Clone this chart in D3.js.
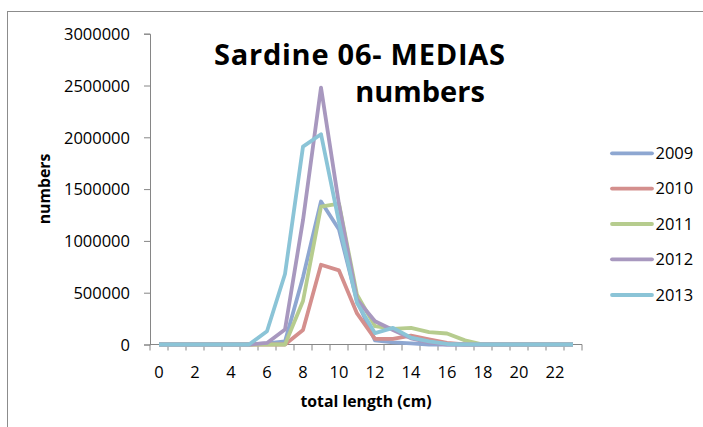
<!DOCTYPE html>
<html><head><meta charset="utf-8">
<script src="https://cdn.jsdelivr.net/npm/d3@7"></script>
<style>body{margin:0;background:#fff}svg{display:block}text{font-family:"Open Sans",sans-serif;fill:#000}</style>
</head><body>
<svg id="c" width="703" height="427"></svg>
<script>
const categories = d3.range(0, 24);
const xTickLabels = [0,2,4,6,8,10,12,14,16,18,20,22];
const yTicks = [0,500000,1000000,1500000,2000000,2500000,3000000];
const years = ["2009","2010","2011","2012","2013"];
const colors = ["#8EA7D1","#D48F8D","#B6CC8E","#A898BF","#8BC4D7"];
const v2009 = [0,0,0,0,0,0,10000,30000,650000,1380000,1110000,420000,40000,20000,10000,0,0,0,0,0,0,0,0,0];
const v2010 = [0,0,0,0,0,0,0,0,140000,770000,715000,300000,55000,55000,85000,50000,15000,0,0,0,0,0,0,0];
const v2011 = [0,0,0,0,0,0,0,0,420000,1330000,1360000,480000,177000,150000,160000,119000,106000,40000,0,0,0,0,0,0];
const v2012 = [0,0,0,0,0,0,15000,145000,1200000,2480000,1350000,434000,225000,140000,60000,20000,0,0,0,0,0,0,0,0];
const v2013 = [0,0,0,0,0,0,128000,680000,1910000,2030000,1180000,400000,110000,160000,67000,30000,5000,0,0,0,0,0,0,0];
const seriesValues = [v2009,v2010,v2011,v2012,v2013];

const svg = d3.select("#c");
svg.append("rect").attr("x",7.5).attr("y",11.5).attr("width",720).attr("height",440)
  .attr("fill","none").attr("stroke","#8c8c8c").attr("stroke-width",1);

const x = d3.scaleBand().domain(categories).range([150,582]);
const y = d3.scaleLinear().domain([0,3000000]).range([344.5,33.7]);
const axisCol = "#868686";

// y axis
const ya = svg.append("g").attr("transform","translate(150,0)")
  .call(d3.axisLeft(y).tickValues(yTicks).tickSize(6).tickPadding(14).tickFormat(d3.format("d")));
ya.select(".domain").attr("stroke",axisCol);
ya.selectAll(".tick line").attr("stroke",axisCol);
ya.selectAll(".tick text").style("font-size","16.5px").attr("dy","0.35em").attr("x",-20);

// x axis
const xa = svg.append("g").attr("transform","translate(0,344.5)");
xa.append("line").attr("x1",150).attr("x2",582).attr("y1",0).attr("y2",0).attr("stroke",axisCol);
const bounds = d3.range(0,25).map(i => i===24 ? x(23)+x.bandwidth() : x(i));
xa.selectAll("line.t").data(bounds).join("line").attr("class","t")
  .attr("x1",d=>d).attr("x2",d=>d).attr("y1",0).attr("y2",6).attr("stroke",axisCol);
xa.selectAll("text").data(xTickLabels).join("text")
  .attr("x",d=>x(d)+x.bandwidth()/2).attr("y",27.5).attr("dy","0.35em")
  .attr("text-anchor","middle").style("font-size","16.5px").text(d=>d);

// lines
const line = d3.line().x((d,i)=>x(categories[i])+x.bandwidth()/2).y(d=>y(d));
seriesValues.forEach((vals,k)=>{
  svg.append("path").datum(vals).attr("d",line).attr("fill","none")
    .attr("stroke",colors[k]).attr("stroke-width",3.8).attr("stroke-linejoin","round");
});

// titles
svg.append("text").attr("x",359.5).attr("y",65).attr("text-anchor","middle")
  .style("font-size","29px").style("font-weight","bold").attr("textLength",291).text("Sardine 06- MEDIAS");
svg.append("text").attr("x",420).attr("y",101.5).attr("text-anchor","middle")
  .style("font-size","29px").style("font-weight","bold").text("numbers");
svg.append("text").attr("x",366).attr("y",401).attr("dy","0.35em").attr("text-anchor","middle")
  .style("font-size","15.8px").style("font-weight","bold").text("total length (cm)");
svg.append("text").attr("transform","translate(44.5,189) rotate(-90)").attr("dy","0.35em")
  .attr("text-anchor","middle").style("font-size","15.8px").style("font-weight","bold").text("numbers");

// legend
const ly = [153.3,188.6,224,259.3,295];
years.forEach((yr,k)=>{
  svg.append("line").attr("x1",612).attr("x2",652).attr("y1",ly[k]).attr("y2",ly[k])
    .attr("stroke",colors[k]).attr("stroke-width",3.8).attr("stroke-linecap","round");
  svg.append("text").attr("x",655.5).attr("y",ly[k]).attr("dy","0.35em")
    .style("font-size","16.5px").text(yr);
});
</script>
</body></html>
